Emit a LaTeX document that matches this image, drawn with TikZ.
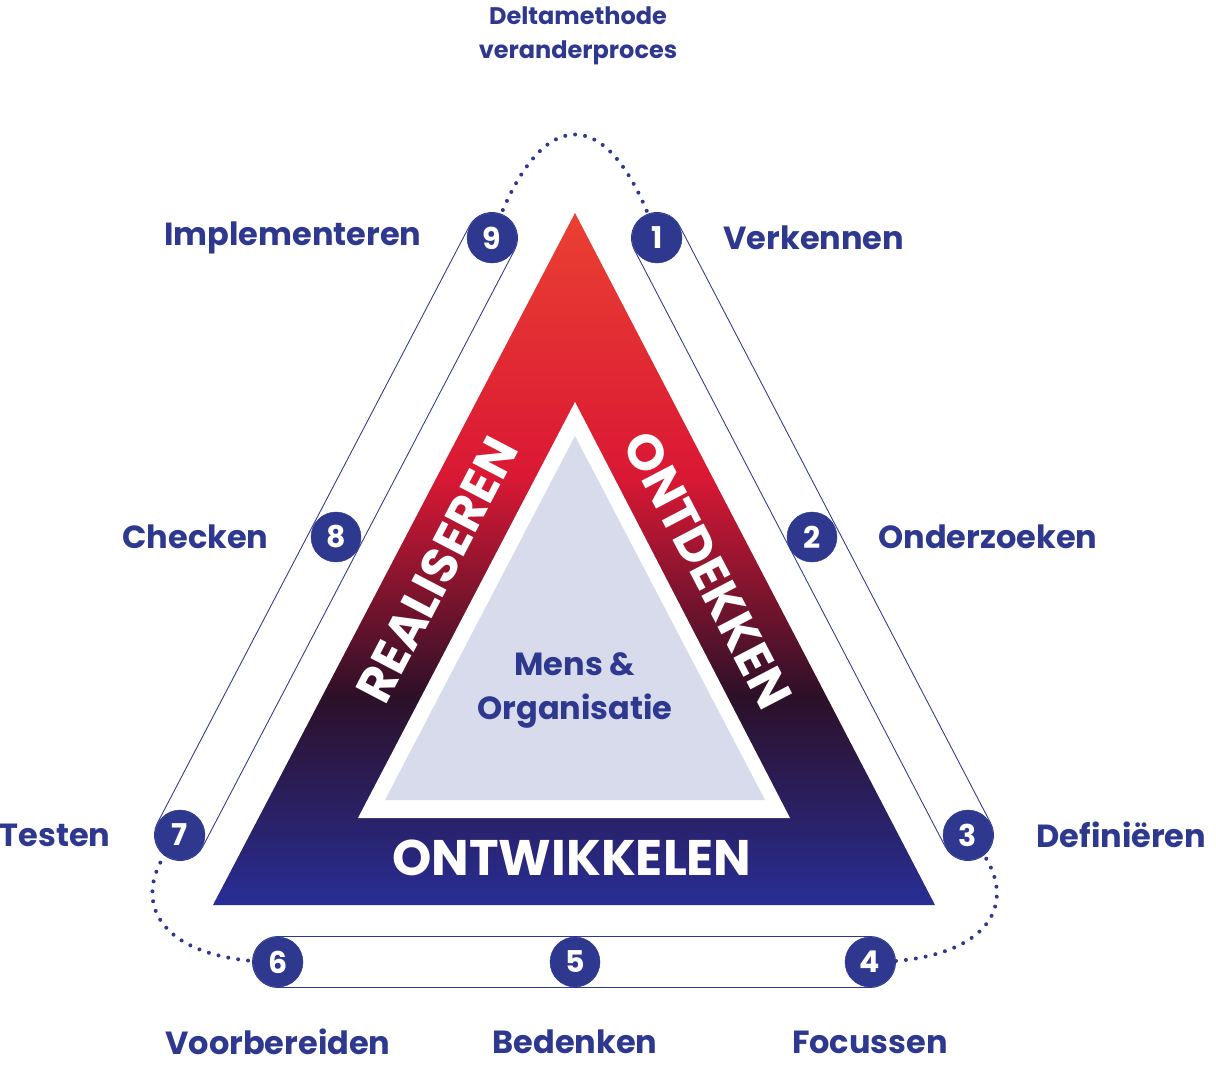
\documentclass[tikz,border=0pt]{standalone}
\usepackage{fontspec}
\setmainfont{Poppins}
\definecolor{deltablue}{RGB}{46,56,142}
\definecolor{deltared}{RGB}{234,64,50}
\definecolor{deltacrimson}{RGB}{218,24,52}
\definecolor{deltadark}{RGB}{44,16,40}
\definecolor{deltabase}{RGB}{40,46,150}
\definecolor{deltalilac}{RGB}{216,219,236}
\pgfdeclareverticalshading{delta}{100bp}{color(0bp)=(deltabase); color(25bp)=(deltabase); color(40bp)=(deltadark); color(56bp)=(deltacrimson); color(75bp)=(deltared); color(100bp)=(deltared)}
\tikzset{
  step circle/.style={circle,fill=deltablue,draw=deltablue,minimum size=50pt,inner sep=0pt,text=white,font=\fontsize{30}{32}\selectfont\bfseries},
  phase label/.style={text=deltablue,font=\fontsize{32}{36}\selectfont\bfseries},
  band/.style={line cap=round},
  dotted link/.style={deltablue,line width=4pt,dash pattern=on 0pt off 10pt,line cap=round},
  side label/.style={text=white,font=\fontsize{50}{54}\selectfont\bfseries}
}
\begin{document}
\begin{tikzpicture}[x=1pt,y=-1pt]
  \useasboundingbox (0,0) rectangle (1216,1068);
  % step positions
  \coordinate (p1) at (657,238);
  \coordinate (p2) at (812,537);
  \coordinate (p3) at (968,835);
  \coordinate (p4) at (870,962);
  \coordinate (p5) at (575,962);
  \coordinate (p6) at (278,962);
  \coordinate (p7) at (180,835);
  \coordinate (p8) at (336,537);
  \coordinate (p9) at (492,238);
  % bands between the steps
  \foreach \a/\b in {p1/p3,p4/p6,p7/p9}{
    \draw[band,deltablue,line width=52pt] (\a) -- (\b);
    \draw[band,white,line width=50pt] (\a) -- (\b);
  }
  % dotted links
  \draw[dotted link] (p9) .. controls (540,100) and (610,100) .. (p1);
  \draw[dotted link] (p3) .. controls (1030,900) and (990,962) .. (p4);
  \draw[dotted link] (p6) .. controls (160,962) and (120,900) .. (p7);
  % triangles
  \shade[shading=delta] (575,213) -- (935,905) -- (213,905) -- cycle;
  \fill[white] (575,402) -- (790,818) -- (358,818) -- cycle;
  \fill[deltalilac] (575,436) -- (765,800) -- (385,800) -- cycle;
  \node[text=deltablue,font=\fontsize{32}{44}\selectfont\bfseries,align=center] (core) at (575,690) {Mens \&\\Organisatie};
  \node[side label,rotate=62.4] (realiseren) at (437,570) {REALISEREN};
  \node[side label,rotate=-62.4] (ontdekken) at (708,570) {ONTDEKKEN};
  \node[side label] (ontwikkelen) at (572,858) {ONTWIKKELEN};
  % steps
  \foreach \i in {1,...,9}
    \node[step circle] (s\i) at (p\i) {\i};
  % labels
  \node[phase label,anchor=east] (l9) at (425,238) {Implementeren};
  \node[phase label,anchor=west] (l1) at (720,238) {Verkennen};
  \node[phase label,anchor=east] (l8) at (272,537) {Checken};
  \node[phase label,anchor=west] (l2) at (875,537) {Onderzoeken};
  \node[phase label,anchor=east] (l7) at (114,835) {Testen};
  \node[phase label,anchor=west] (l3) at (1033,835) {Definiëren};
  \node[phase label] (l6) at (278,1042) {Voorbereiden};
  \node[phase label] (l5) at (575,1042) {Bedenken};
  \node[phase label] (l4) at (870,1042) {Focussen};
  \node[text=deltablue,font=\fontsize{24}{34}\selectfont\bfseries,align=center] (title) at (578,36) {Deltamethode\\veranderproces};
\end{tikzpicture}
\end{document}
